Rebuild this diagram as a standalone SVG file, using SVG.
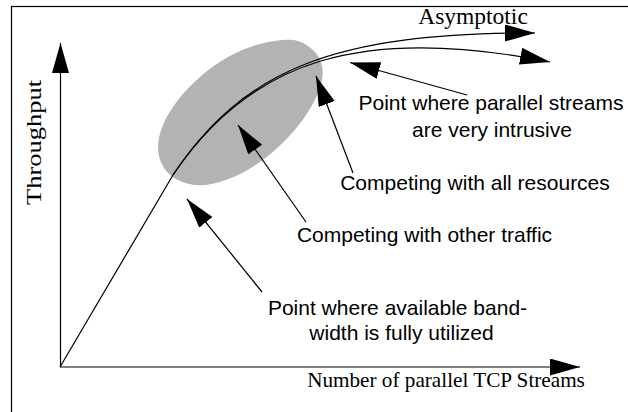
<svg xmlns="http://www.w3.org/2000/svg" width="628" height="412" viewBox="0 0 628 412">
  <style>
    .ln { fill: none; stroke: #000; stroke-width: 1.2; }
    .sans { font-family: "Liberation Sans", Arial, sans-serif; font-size: 21px; fill: #000; text-anchor: middle; }
    .serif { font-family: "Liberation Serif", "Times New Roman", serif; fill: #000; }
  </style>
  <defs>
    <marker id="ah" markerUnits="userSpaceOnUse" markerWidth="32" markerHeight="18" refX="30" refY="8.5" orient="auto" viewBox="0 0 32 18">
      <path d="M0,0 L30,8.5 L0,17 Z" fill="#000"/>
    </marker>
  </defs>
  <rect width="628" height="412" fill="#fff"/>
  <rect x="11.5" y="6.5" width="700" height="500" fill="none" stroke="#000" stroke-width="1.2"/>

  <g id="region">
    <path fill="#b3b3b3" d="M293,40 C301.8,41 308.2,45.7 313,50 C317.8,54.3 320.7,60.3 322,66 C323.3,71.7 322.8,77.2 321,84 C319.2,90.8 315.7,99 311,107 C306.3,115 300.2,123.8 293,132 C285.8,140.2 277.2,148.8 268,156 C258.8,163.2 248.5,170.2 238,175 C227.5,179.8 214.7,184 205,185 C195.3,186 186.8,183.8 180,181 C173.2,178.2 167.7,173.5 164,168 C160.3,162.5 158.2,155.2 158,148 C157.8,140.8 159.7,133 163,125 C166.3,117 171.8,108 178,100 C184.2,92 191.7,84.2 200,77 C208.3,69.8 218,62.5 228,57 C238,51.5 249.2,46.8 260,44 C270.8,41.2 284.2,39 293,40 Z"/>
  </g>

  <g id="axes">
    <line class="ln" x1="60.5" y1="367" x2="60.5" y2="43" marker-end="url(#ah)"/>
    <line class="ln" x1="60" y1="367" x2="580" y2="367" marker-end="url(#ah)"/>
    <text class="serif" font-size="21.5" text-anchor="middle" transform="translate(41 142.5) rotate(-90)" textLength="125" lengthAdjust="spacingAndGlyphs">Throughput</text>
    <text class="serif" font-size="21.2" x="446" y="387" text-anchor="middle">Number of parallel TCP Streams</text>
  </g>

  <g id="connectors">
    <line class="ln" x1="60" y1="367" x2="173" y2="175"/>
    <path class="ln" d="M173,175 C244,68.5 335,33 535,33" marker-end="url(#ah)"/>
    <path class="ln" d="M173,175 C250.7,58.8 363.8,24.9 550,62" marker-end="url(#ah)"/>
    <line class="ln" x1="467" y1="95" x2="350" y2="62.5" marker-end="url(#ah)"/>
    <line class="ln" x1="353" y1="173" x2="316" y2="76" marker-end="url(#ah)"/>
    <line class="ln" x1="306" y1="222" x2="238" y2="125" marker-end="url(#ah)"/>
    <line class="ln" x1="262" y1="292" x2="187" y2="199" marker-end="url(#ah)"/>
  </g>

  <g id="asymptotic">
    <text class="serif" font-size="23.5" x="473" y="24" text-anchor="middle">Asymptotic</text>
  </g>
  <g id="intrusive">
    <text class="sans" x="491" y="110">Point where parallel streams</text>
    <text class="sans" x="492" y="137">are very intrusive</text>
  </g>
  <g id="all-resources">
    <text class="sans" x="475" y="190">Competing with all resources</text>
  </g>
  <g id="other-traffic">
    <text class="sans" x="424.5" y="242">Competing with other traffic</text>
  </g>
  <g id="fully-utilized">
    <text class="sans" x="397.5" y="315">Point where available band-</text>
    <text class="sans" x="401.5" y="340">width is fully utilized</text>
  </g>
</svg>
